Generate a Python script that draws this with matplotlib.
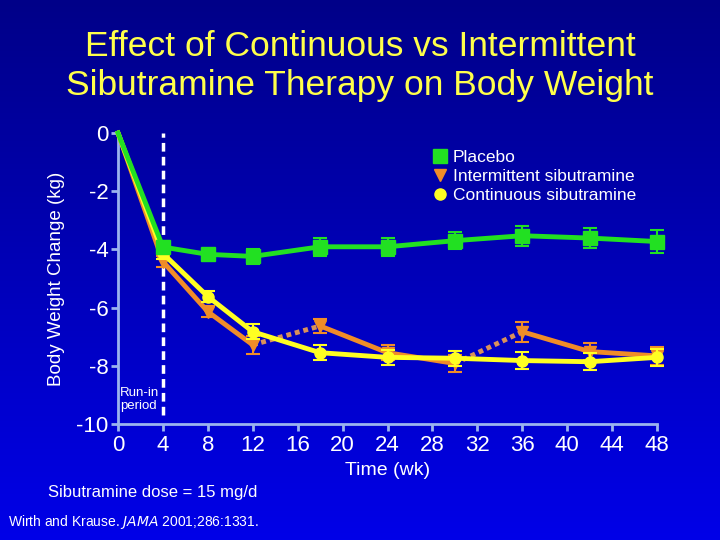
import numpy as np
import matplotlib
matplotlib.use("Agg")
import matplotlib.pyplot as plt
from matplotlib.lines import Line2D

weeks = [0, 4, 8, 12, 18, 24, 30, 36, 42, 48]
placebo = [0, -3.92, -4.17, -4.24, -3.91, -3.91, -3.70, -3.53, -3.61, -3.73]
placebo_err = [0, 0.2, 0.2, 0.25, 0.3, 0.3, 0.3, 0.35, 0.35, 0.38]
intermittent = [0, -4.42, -6.14, -7.28, -6.63, -7.55, -7.92, -6.83, -7.51, -7.66]
intermittent_err = [0, 0.2, 0.2, 0.3, 0.25, 0.25, 0.3, 0.35, 0.3, 0.3]
continuous = [0, -4.14, -5.62, -6.83, -7.55, -7.71, -7.74, -7.82, -7.86, -7.71]
continuous_err = [0, 0.2, 0.2, 0.25, 0.25, 0.25, 0.25, 0.3, 0.3, 0.3]
xticks = list(range(0, 49, 4))
yticks = [0, -2, -4, -6, -8, -10]
labels = ["Placebo", "Intermittent sibutramine", "Continuous sibutramine"]

FONT = "Liberation Sans"
plt.rcParams['font.family'] = [FONT, 'DejaVu Sans']

fig = plt.figure(figsize=(7.2, 5.4), dpi=100)

# gradient background
bg = fig.add_axes([0, 0, 1, 1], zorder=-10)
grad = np.linspace(0, 1, 256).reshape(-1, 1)
top = np.array([0x00, 0x00, 0x88]) / 255
bot = np.array([0x00, 0x00, 0xe8]) / 255
img = top[None, None, :] * (1 - grad[:, :, None]) + bot[None, None, :] * grad[:, :, None]
bg.imshow(img, aspect='auto', extent=[0, 1, 0, 1])
bg.axis('off')

ax = fig.add_axes([118/720, 1 - 424/540, (657-118)/720, (424-133)/540])
ax.patch.set_alpha(0)
ax.set_xlim(0, 48)
ax.set_ylim(-10, 0)

green = '#22e022'
orange = '#f08c28'
yellow = '#ffff22'
dotted_orange = '#d9905a'

# vertical dashed run-in line
ax.plot([4, 4], [-9.7, 0], color='white', lw=2.5, ls=(0, (2.5, 1.5)), zorder=2, clip_on=False)

# intermittent: solid segments and dotted segments
iw = weeks
solid_idx = [(0, 1), (1, 2), (2, 3), (4, 5), (5, 6), (7, 8), (8, 9)]
dot_idx = [(3, 4), (6, 7)]
for a, b in solid_idx:
    ax.plot([iw[a], iw[b]], [intermittent[a], intermittent[b]], color=orange, lw=3.5,
            solid_capstyle='round', zorder=3, clip_on=False)
for a, b in dot_idx:
    ax.plot([iw[a], iw[b]], [intermittent[a], intermittent[b]], color=dotted_orange, lw=3.5,
            ls=(0, (1, 0.8)), zorder=3, clip_on=False)
ax.errorbar(weeks[1:], intermittent[1:], yerr=intermittent_err[1:], fmt='v', color=orange,
            ms=8, capsize=5, elinewidth=1.5, capthick=1.5, zorder=4, clip_on=False)

ax.plot(weeks, continuous, color=yellow, lw=3.5, zorder=5, clip_on=False)
ax.errorbar(weeks[1:], continuous[1:], yerr=continuous_err[1:], fmt='o', color=yellow,
            ms=8, capsize=5, elinewidth=1.5, capthick=1.5, zorder=6, clip_on=False)

ax.plot(weeks, placebo, color=green, lw=3.5, zorder=7, clip_on=False)
ax.errorbar(weeks[1:], placebo[1:], yerr=placebo_err[1:], fmt='s', color=green,
            ms=10, capsize=5, elinewidth=1.5, capthick=1.5, zorder=8, clip_on=False)

spc = '#9bb4ee'
for s in ['top', 'right']:
    ax.spines[s].set_visible(False)
for s in ['left', 'bottom']:
    ax.spines[s].set_color(spc)
    ax.spines[s].set_linewidth(2)
ax.set_xticks(xticks)
ax.set_yticks(yticks)
ax.set_xticklabels([str(t) for t in xticks])
ax.set_yticklabels([str(t) for t in yticks])
ax.tick_params(colors=spc, width=2, length=5, labelcolor='white', labelsize=16)
ax.tick_params(axis='x', pad=3)
ax.tick_params(axis='y', pad=2)

ax.set_xlabel("Time (wk)", color='white', fontsize=14, labelpad=4)
ax.set_ylabel("Body Weight Change (kg)", color='white', fontsize=13.5, labelpad=8)

# legend
handles = [
    Line2D([], [], ls='none', marker='s', color=green, ms=10),
    Line2D([], [], ls='none', marker='v', color=orange, ms=8),
    Line2D([], [], ls='none', marker='o', color=yellow, ms=8),
]
leg = ax.legend(handles, labels, loc='upper left', bbox_to_anchor=(0.562, 0.985),
                frameon=False, fontsize=12.5, labelcolor='white', handlelength=0.8,
                handletextpad=0.35, labelspacing=0.22, borderpad=0.2)

ax.text(0.15, -9.16, "Run-in\nperiod", color='white', fontsize=9.5, ha='left', va='center',
        linespacing=1.15)

fig.text(360/720, 1 - 47/540, "Effect of Continuous vs Intermittent", color='#ffff4a',
         fontsize=25.5, ha='center', va='center')
fig.text(360/720, 1 - 86/540, "Sibutramine Therapy on Body Weight", color='#ffff4a',
         fontsize=25.5, ha='center', va='center')
fig.text(48/720, 1 - 493/540, "Sibutramine dose = 15 mg/d", color='white', fontsize=12,
         ha='left', va='center')
fig.text(8/720, 1 - 522/540, r"Wirth and Krause. $\it{JAMA}$ 2001;286:1331.", color='white',
         fontsize=10, ha='left', va='center')

fig.savefig("out.png", dpi=100, facecolor='#0000b0')
